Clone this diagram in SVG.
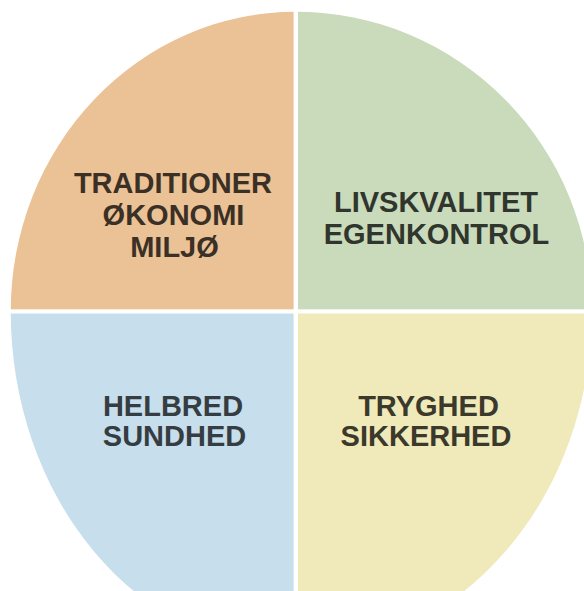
<svg xmlns="http://www.w3.org/2000/svg" width="584" height="591" viewBox="0 0 584 591">
  <style>
    .lbl { font-family: "Liberation Sans", Arial, sans-serif; font-weight: bold; font-size: 29px; text-anchor: middle; }
  </style>
  <defs>
    <clipPath id="disc">
      <path d="M10.7,311.4 A285.1,299.7 0 0 1 295.8,11.7 A296,299.7 0 0 1 591.8,311.4 A296,340 0 0 1 295.8,651.4 A285.1,340 0 0 1 10.7,311.4 Z"/>
    </clipPath>
  </defs>
  <rect width="584" height="591" fill="#ffffff"/>
  <g clip-path="url(#disc)">
    <g id="q-traditioner">
      <rect x="0" y="0" width="293.6" height="309.3" fill="#ebc196"/>
    </g>
    <g id="q-livskvalitet">
      <rect x="298" y="0" width="286" height="309.3" fill="#c9dbbb"/>
    </g>
    <g id="q-helbred">
      <rect x="0" y="313.5" width="293.6" height="277.5" fill="#c7dfec"/>
    </g>
    <g id="q-tryghed">
      <rect x="298" y="313.5" width="286" height="277.5" fill="#f0e9b9"/>
    </g>
  </g>
  <g id="labels">
    <text class="lbl" fill="#3b3025" x="173" y="193.3">TRADITIONER</text>
    <text class="lbl" fill="#3b3025" x="173.5" y="225">ØKONOMI</text>
    <text class="lbl" fill="#3b3025" x="174.5" y="256.7">MILJØ</text>
    <text class="lbl" fill="#30362d" x="436" y="212.3">LIVSKVALITET</text>
    <text class="lbl" fill="#30362d" x="436.5" y="244">EGENKONTROL</text>
    <text class="lbl" fill="#363d42" x="173" y="415.7">HELBRED</text>
    <text class="lbl" fill="#363d42" x="174.5" y="446">SUNDHED</text>
    <text class="lbl" fill="#3a392b" x="428.5" y="415.7">TRYGHED</text>
    <text class="lbl" fill="#3a392b" x="426" y="446">SIKKERHED</text>
  </g>
</svg>
